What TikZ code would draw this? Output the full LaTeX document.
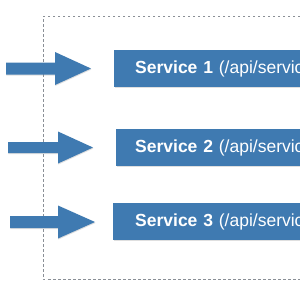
\documentclass[tikz,border=0pt]{standalone}
\usepackage{fontspec}
\setmainfont{Liberation Sans}
\usetikzlibrary{shadows}
\definecolor{svcblue}{HTML}{3F7AB1}
\definecolor{dashgray}{HTML}{8A8F96}
\tikzset{
  svcbox/.style={fill=svcblue, text=white, anchor=west, minimum height=37pt,
    text width=240pt, align=left, inner ysep=0pt,
    font=\fontsize{17.5}{20}\selectfont,
    drop shadow={opacity=0.25, shadow xshift=0.4pt, shadow yshift=-1pt}},
  bigarrow/.style={fill=svcblue,
    drop shadow={opacity=0.25, shadow xshift=0.4pt, shadow yshift=-1pt}},
  frame/.style={draw=dashgray, line width=0.6pt, dash pattern=on 2.5pt off 2.5pt}
}
\begin{document}
\begin{tikzpicture}[x=1pt,y=-1pt]
\useasboundingbox (0,0) rectangle (300,300);
\clip (0,0) rectangle (300,300);
\fill[white] (0,0) rectangle (300,300);
% dashed frame
\draw[frame] (340,16) -- (43,16) -- (43,279) -- (340,279);
% services
\node[svcbox, inner xsep=21pt] (s1) at (114,68.5) {\textbf{Service 1} (/api/service1)};
\node[svcbox, inner xsep=19pt] (s2) at (116,147.5) {\textbf{Service 2} (/api/service2)};
\node[svcbox, inner xsep=22pt] (s3) at (113,221.5) {\textbf{Service 3} (/api/service3)};
% arrows
\fill[bigarrow] (6,62.5) -- (55,62.5) -- (55,52) -- (91,68.5) -- (55,85) -- (55,74.5) -- (6,74.5) -- cycle;
\fill[bigarrow] (8,142) -- (58,142) -- (58,131.5) -- (93,147.5) -- (58,163.5) -- (58,153) -- (8,153) -- cycle;
\fill[bigarrow] (10,216) -- (58,216) -- (58,205.5) -- (95,222) -- (58,238.5) -- (58,228) -- (10,228) -- cycle;
\end{tikzpicture}
\end{document}
